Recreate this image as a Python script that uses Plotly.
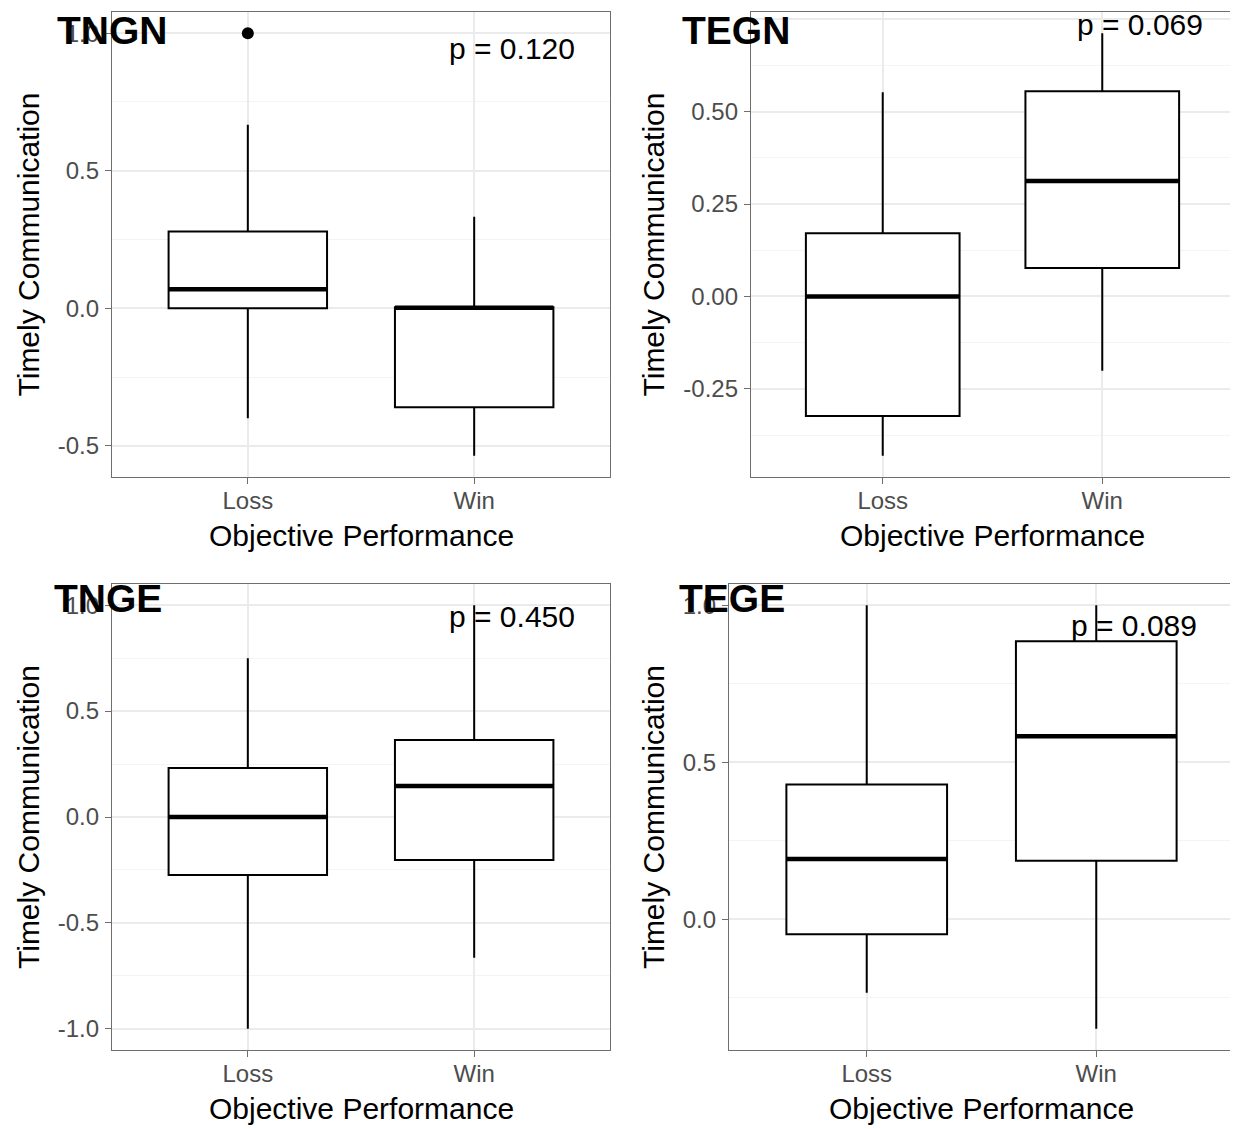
import plotly.graph_objects as go

# The page shows the figure 8 px in from the top-left corner, so the figure is
# sized to end at the window's edge and page pixels are shifted by OFF.
PAGE_W, PAGE_H, OFF = 1238, 1129, 8
W, H = PAGE_W - OFF, PAGE_H - OFF

categories = ["Loss", "Win"]
panel_names = ["TNGN", "TEGN", "TNGE", "TEGE"]
p_labels = ["p = 0.120", "p = 0.069", "p = 0.450", "p = 0.089"]

# box statistics per panel: [Loss, Win]
q1 = {
    "TNGN": [0.000, -0.359],
    "TEGN": [-0.323, 0.077],
    "TNGE": [-0.274, -0.203],
    "TEGE": [-0.048, 0.186],
}
median = {
    "TNGN": [0.069, 0.002],
    "TEGN": [0.000, 0.312],
    "TNGE": [0.000, 0.146],
    "TEGE": [0.192, 0.583],
}
q3 = {
    "TNGN": [0.279, 0.004],
    "TEGN": [0.171, 0.555],
    "TNGE": [0.231, 0.363],
    "TEGE": [0.429, 0.885],
}
lower = {
    "TNGN": [-0.399, -0.536],
    "TEGN": [-0.431, -0.201],
    "TNGE": [-1.000, -0.665],
    "TEGE": [-0.234, -0.349],
}
upper = {
    "TNGN": [0.667, 0.333],
    "TEGN": [0.552, 0.712],
    "TNGE": [0.750, 1.000],
    "TEGE": [1.000, 1.000],
}
outliers = {
    "TNGN": [[1.0], []],
    "TEGN": [[], []],
    "TNGE": [[], []],
    "TEGE": [[], []],
}

y_ticks = {
    "TNGN": [-0.5, 0.0, 0.5, 1.0],
    "TEGN": [-0.25, 0.0, 0.25, 0.5, 0.75],
    "TNGE": [-1.0, -0.5, 0.0, 0.5, 1.0],
    "TEGE": [0.0, 0.5, 1.0],
}
y_decimals = {"TNGN": 1, "TEGN": 2, "TNGE": 1, "TEGE": 1}
y_minor = {"TNGN": 0.25, "TEGN": 0.125, "TNGE": 0.25, "TEGE": 0.25}

# ---- layout geometry (page pixels) ----
panels_px = {
    "TNGN": (112, 610, 12, 477),
    "TEGN": (751, 1234, 12, 477),
    "TNGE": (112, 610, 584, 1050),
    "TEGE": (729, 1234, 584, 1050),
}
title_px = {"TNGN": (56, 8), "TEGN": (681, 8), "TNGE": (53, 576), "TEGE": (678, 576)}
ytitle_x = {"TNGN": 28, "TEGN": 653, "TNGE": 28, "TEGE": 653}
p_pos = {"TNGN": (2.167, 0.946), "TEGN": (2.172, 0.736), "TNGE": (2.167, 0.945), "TEGE": (2.165, 0.936)}

BOX_W = 0.7
FONT = "Liberation Sans, Arial, Helvetica, sans-serif"
BORDER = "#6E6E6E"

def fx(x):
    return (x - OFF) / W

def fy(y):
    return 1 - (y - OFF) / H

fig = go.Figure()
annotations = []
xs = [1, 2]

for i, name in enumerate(panel_names):
    n = "" if i == 0 else str(i + 1)
    xa, ya = "x" + n, "y" + n
    for j, cat in enumerate(categories):
        fig.add_trace(go.Box(
            x=[xs[j]], q1=[q1[name][j]], median=[median[name][j]], q3=[q3[name][j]],
            lowerfence=[lower[name][j]], upperfence=[upper[name][j]],
            width=BOX_W, whiskerwidth=0, fillcolor="white",
            line=dict(color="black", width=2), boxpoints=False,
            xaxis=xa, yaxis=ya, showlegend=False, hoverinfo="skip",
        ))
        # thicker median (ggplot fatten)
        fig.add_trace(go.Scatter(
            x=[xs[j] - BOX_W / 2, xs[j] + BOX_W / 2], y=[median[name][j]] * 2,
            mode="lines", line=dict(color="black", width=4.5),
            xaxis=xa, yaxis=ya, showlegend=False, hoverinfo="skip",
        ))
        if outliers[name][j]:
            fig.add_trace(go.Scatter(
                x=[xs[j]] * len(outliers[name][j]), y=outliers[name][j],
                mode="markers", marker=dict(color="black", size=12),
                xaxis=xa, yaxis=ya, showlegend=False, hoverinfo="skip",
            ))

    x0, x1, y0, y1 = panels_px[name]
    vals = [upper[name][0], upper[name][1], lower[name][0], lower[name][1]]
    for o in outliers[name]:
        vals += o
    lo, hi = min(vals), max(vals)
    pad = (hi - lo) * 0.05
    ticks = y_ticks[name]
    d = y_decimals[name]
    axis_common = dict(
        showline=True, mirror=True, linecolor=BORDER, linewidth=1.3,
        ticks="outside", ticklen=6, tickwidth=1.3, tickcolor=BORDER,
        tickfont=dict(family=FONT, size=24, color="#4D4D4D"),
        gridcolor="#EBEBEB", gridwidth=1.5, zeroline=False, automargin=False,
    )
    fig.layout["xaxis" + n] = dict(
        domain=[fx(x0), fx(x1)], anchor=ya, range=[0.4, 2.6],
        tickvals=xs, ticktext=categories, ticklabelstandoff=-4, **axis_common,
    )
    fig.layout["yaxis" + n] = dict(
        domain=[fy(y1), fy(y0)], anchor=xa, range=[lo - pad, hi + pad],
        tickvals=ticks, ticktext=[f"{t:.{d}f}" for t in ticks],
        minor=dict(dtick=y_minor[name], tick0=0, showgrid=True, gridcolor="#F4F4F4",
                   gridwidth=1, ticks=""),
        ticklabelstandoff=1,
        **axis_common,
    )
    # p-value label
    px_, py_ = p_pos[name]
    annotations.append(dict(x=px_, y=py_, xref=xa, yref=ya, text=p_labels[i], showarrow=False,
                            font=dict(family=FONT, size=30, color="black"),
                            xanchor="center", yanchor="middle"))
    # x axis title
    annotations.append(dict(x=fx((x0 + x1) / 2), y=fy(y1 + 58), xref="paper", yref="paper",
                            text="Objective Performance", showarrow=False,
                            font=dict(family=FONT, size=30, color="black"),
                            xanchor="center", yanchor="middle"))
    # y axis title
    annotations.append(dict(x=fx(ytitle_x[name]), y=fy((y0 + y1) / 2), xref="paper", yref="paper",
                            text="Timely Communication", showarrow=False, textangle=-90,
                            font=dict(family=FONT, size=30, color="black"),
                            xanchor="center", yanchor="middle"))
    # panel label
    tx, ty = title_px[name]
    annotations.append(dict(x=fx(tx), y=fy(ty), xref="paper", yref="paper",
                            text="<b>" + name + "</b>", showarrow=False, borderpad=0,
                            font=dict(family=FONT, size=39, color="black"),
                            xanchor="left", yanchor="top"))

fig.update_layout(
    width=W, height=H, margin=dict(l=0, r=0, t=0, b=0),
    paper_bgcolor="white", plot_bgcolor="white",
    annotations=annotations, showlegend=False,
)

fig.write_html("out.html")
